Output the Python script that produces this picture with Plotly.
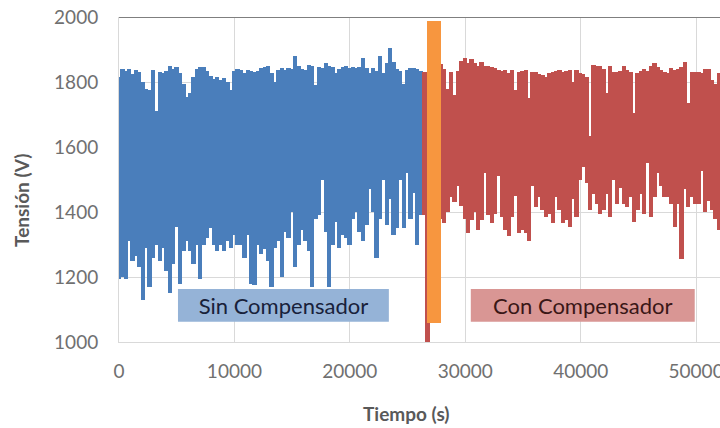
import plotly.graph_objects as go

# ---------------- data ----------------
STEP = 293.6  # sampling interval of the envelope, s

blue_hi = [1815, 1840, 1835, 1840, 1825, 1838, 1832, 1800, 1780, 1775, 1838, 1710,
           1830, 1828, 1835, 1848, 1840, 1845, 1828, 1795, 1755, 1765, 1815, 1840,
           1845, 1845, 1835, 1820, 1810, 1815, 1805, 1812, 1800, 1775, 1835, 1840,
           1838, 1828, 1838, 1835, 1832, 1835, 1842, 1845, 1848, 1828, 1800, 1838,
           1842, 1838, 1843, 1840, 1880, 1848, 1840, 1838, 1852, 1850, 1790, 1845,
           1842, 1860, 1850, 1845, 1828, 1840, 1845, 1848, 1842, 1845, 1842,
           1845, 1875, 1842, 1828, 1843, 1835, 1880, 1828, 1858, 1905, 1862, 1840,
           1835, 1795, 1838, 1842, 1842, 1840, 1835]
blue_lo = [1195, 1200, 1195, 1310, 1250, 1265, 1230, 1130, 1290, 1170, 1260, 1300,
           1250, 1290, 1220, 1150, 1240, 1355, 1180, 1280, 1310, 1280, 1240, 1300,
           1195, 1300, 1320, 1350, 1300, 1280, 1300, 1280, 1310, 1290, 1330, 1300,
           1300, 1260, 1330, 1180, 1175, 1300, 1270, 1285, 1250, 1170, 1290, 1310,
           1200, 1340, 1320, 1400, 1230, 1300, 1345, 1310, 1280, 1170, 1380, 1390,
           1500, 1340, 1170, 1300, 1370, 1290, 1330, 1320, 1300, 1380, 1400,
           1340, 1310, 1360, 1470, 1400, 1260, 1380, 1500, 1360, 1440, 1330, 1350,
           1500, 1350, 1520, 1380, 1460, 1300, 1390]

red_hi = [1830, 1830, 1835, 1840, 1845,
          1855, 1840, 1780, 1830, 1760, 1835, 1865, 1875, 1860, 1870, 1858, 1850,
          1862, 1848, 1850, 1845, 1842, 1838, 1835, 1838, 1828, 1838, 1775, 1832,
          1835, 1838, 1750, 1832, 1830, 1825, 1822, 1815, 1828, 1832, 1835, 1838,
          1832, 1835, 1838, 1800, 1838, 1828, 1825, 1815, 1635, 1852, 1848,
          1850, 1840, 1765, 1848, 1830, 1830, 1835, 1848, 1838, 1832, 1705, 1828,
          1835, 1840, 1835, 1850, 1857, 1845, 1838, 1832, 1828, 1842, 1838, 1840,
          1845, 1862, 1735, 1832, 1832, 1830, 1828, 1840, 1840, 1805, 1795, 1828]
red_lo = [1390, 1000, 1380, 1370, 1390,
          1380, 1365, 1400, 1445, 1430, 1480, 1420, 1380, 1335, 1375, 1400, 1345,
          1375, 1520, 1390, 1365, 1395, 1510, 1385, 1345, 1325, 1385, 1450, 1335,
          1345, 1335, 1310, 1480, 1415, 1445, 1405, 1385, 1395, 1365, 1445, 1405,
          1365, 1375, 1355, 1440, 1385, 1500, 1540, 1490, 1405, 1455, 1425,
          1395, 1405, 1455, 1385, 1500, 1425, 1475, 1425, 1415, 1445, 1370, 1405,
          1455, 1395, 1550, 1385, 1445, 1520, 1480, 1445, 1445, 1425, 1355, 1425,
          1255, 1470, 1415, 1445, 1425, 1425, 1525, 1400, 1435, 1405, 1380, 1345]

blue_t = [i * STEP for i in range(len(blue_hi))]
red_t = [(len(blue_hi) + i) * STEP for i in range(len(red_hi))]

# switching moment marker (orange bar)
switch_t = [27280]
switch_lo = [1060]
switch_hi = [1989]
SWITCH_WIDTH = 1210

x_ticks = [0, 10000, 20000, 30000, 40000, 50000]
y_ticks = [1000, 1200, 1400, 1600, 1800, 2000]

BLUE = "#4A7EBB"
RED = "#C0504D"
ORANGE = "#F7963F"
FONT = "Lato"

fig = go.Figure()
fig.add_trace(go.Bar(x=blue_t, base=blue_lo,
                     y=[h - l for h, l in zip(blue_hi, blue_lo)],
                     width=STEP * 1.25, marker=dict(color=BLUE, line=dict(width=0)),
                     showlegend=False, hoverinfo="skip"))
fig.add_trace(go.Bar(x=red_t, base=red_lo,
                     y=[h - l for h, l in zip(red_hi, red_lo)],
                     width=STEP * 1.25, marker=dict(color=RED, line=dict(width=0)),
                     showlegend=False, hoverinfo="skip"))
fig.add_trace(go.Bar(x=switch_t, base=switch_lo,
                     y=[h - l for h, l in zip(switch_hi, switch_lo)],
                     width=SWITCH_WIDTH, marker=dict(color=ORANGE, line=dict(width=0)),
                     showlegend=False, hoverinfo="skip"))

# label boxes
fig.add_shape(type="rect", xref="x", yref="y", x0=5110, x1=23380, y0=1062, y1=1163,
              fillcolor="#95B3D7", line=dict(width=0), layer="above",
              label=dict(text="Sin Compensador",
                         font=dict(family=FONT, size=22, color="#18213a")))
fig.add_shape(type="rect", xref="x", yref="y", x0=30480, x1=49880, y0=1062, y1=1163,
              fillcolor="#D99694", line=dict(width=0), layer="above",
              label=dict(text="Con Compensador",
                         font=dict(family=FONT, size=22, color="#3a1717")))
# dark top border
fig.add_shape(type="line", xref="paper", yref="y", x0=0, x1=1, y0=2000, y1=2000,
              line=dict(color="#7f7f7f", width=2), layer="above")

fig.add_annotation(text="<b>Tiempo (s)</b>", xref="paper", yref="paper",
                   x=0.479, y=-0.2215, xanchor="center", yanchor="middle",
                   showarrow=False,
                   font=dict(family=FONT, size=19, color="#595959"))
fig.add_annotation(text="<b>Tensión (V)</b>", xref="paper", yref="paper",
                   x=-0.1614, y=0.437, xanchor="center", yanchor="middle",
                   showarrow=False, textangle=-90,
                   font=dict(family=FONT, size=19, color="#595959"))

fig.update_layout(
    width=720, height=428,
    margin=dict(l=119, r=0, t=17, b=86, autoexpand=False),
    paper_bgcolor="white", plot_bgcolor="white",
    bargap=0, barmode="overlay",
    font=dict(family=FONT, size=19, color="#707070"),
    xaxis=dict(range=[0, 52070], tickvals=x_ticks, ticktext=[str(v) for v in x_ticks],
               showgrid=True, gridcolor="#d9d9d9", gridwidth=1, zeroline=False,
               showline=True, linecolor="#d9d9d9", ticks="", ticklabelstandoff=12,
               ticklabeloverflow="allow", automargin=False),
    yaxis=dict(range=[1000, 2000], tickvals=y_ticks, ticktext=[str(v) for v in y_ticks],
               showgrid=True, gridcolor="#d9d9d9", gridwidth=1, zeroline=False,
               showline=True, linecolor="#d9d9d9", ticks="", ticklabelstandoff=16,
               automargin=False),
)

fig.write_html("out.html")
